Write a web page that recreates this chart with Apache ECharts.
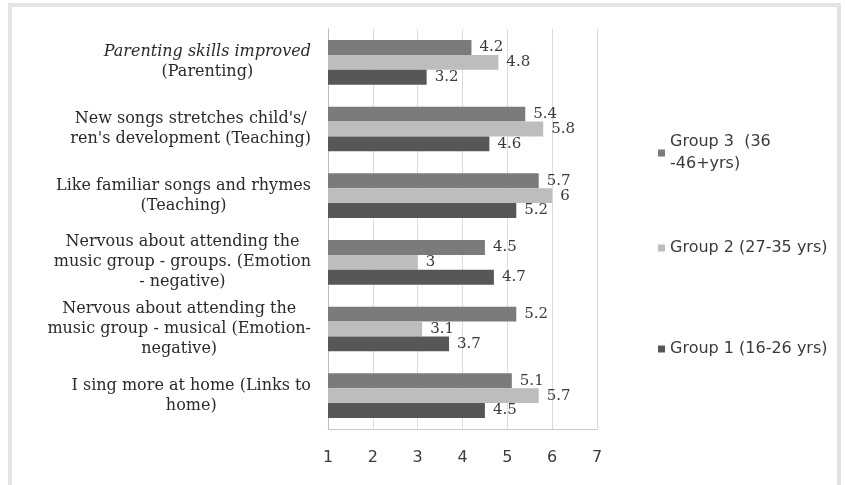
<!DOCTYPE html>
<html>
<head>
<meta charset="utf-8">
<script src="https://cdn.jsdelivr.net/npm/echarts@6/dist/echarts.min.js"></script>
<style>
html, body { margin: 0; padding: 0; background: #fff; }
#main { width: 845px; height: 485px; }
</style>
</head>
<body>
<div id="main"></div>
<script>
var dom = document.getElementById("main");
var myChart = echarts.init(dom);

// categories, top to bottom
var categories = [
    "Parenting skills improved\n(Parenting)",
    "New songs stretches child's/\nren's development (Teaching)",
    "Like familiar songs and rhymes\n(Teaching)",
    "Nervous about attending the\nmusic group - groups. (Emotion\n- negative)",
    "Nervous about attending the\nmusic group - musical (Emotion-\nnegative)",
    "I sing more at home (Links to\nhome)"
];
var seriesNames = ["Group 3  (36\n-46+yrs)", "Group 2 (27-35 yrs)", "Group 1 (16-26 yrs)"];
var group3 = [4.2, 5.4, 5.7, 4.5, 5.2, 5.1];
var group2 = [4.8, 5.8, 6, 3, 3.1, 5.7];
var group1 = [3.2, 4.6, 5.2, 4.7, 3.7, 4.5];
var colors = ["#7b7b7b", "#bdbdbd", "#575757"];

function makeSeries(name, values, color) {
    return {
        name: name,
        type: 'bar',
        data: values,
        barGap: 0,
        barCategoryGap: '33%',
        itemStyle: { color: color },
        label: {
            show: true,
            position: 'right',
            distance: 8,
            color: '#3a3a3a',
            fontFamily: 'DejaVu Serif',
            fontSize: 15
        }
    };
}

var option = {
    backgroundColor: '#fff',
    animation: false,
    grid: { left: 328, right: 248, top: 29, bottom: 56 },
    xAxis: {
        type: 'value',
        min: 1,
        max: 7,
        interval: 1,
        axisLine: { show: true, lineStyle: { color: '#c8c8c8' } },
        axisTick: { show: false },
        splitLine: { show: true, lineStyle: { color: '#dcdcdc' } },
        axisLabel: { color: '#3a3a3a', fontFamily: 'DejaVu Sans', fontSize: 16, margin: 21 }
    },
    yAxis: {
        type: 'category',
        inverse: true,
        data: categories,
        axisLine: { show: true, lineStyle: { color: '#bdbdbd' } },
        axisTick: { show: false },
        axisLabel: {
            align: 'right',
            margin: 17,
            color: '#2a2a2a',
            fontFamily: 'DejaVu Serif',
            fontSize: 16,
            lineHeight: 20,
            formatter: function (v, i) {
                return v.split('\n').map(function (line, j) {
                    return (i === 0 && j === 0 ? '{i|' : '{c|') + line + '}';
                }).join('\n');
            },
            rich: {
                c: { align: 'center', fontFamily: 'DejaVu Serif', fontSize: 16, lineHeight: 20, color: '#2a2a2a' },
                i: { align: 'center', fontFamily: 'DejaVu Serif', fontStyle: 'italic', fontSize: 16, lineHeight: 20, color: '#2a2a2a' }
            }
        }
    },
    legend: [0, 1, 2].map(function (k) {
        return {
            data: [seriesNames[k]],
            orient: 'vertical',
            left: 653,
            top: [126, 232, 333][k],
            itemWidth: 7,
            itemHeight: 7,
            itemGap: 0,
            icon: 'rect',
            textStyle: { color: '#3a3a3a', fontFamily: 'DejaVu Sans', fontSize: 16, lineHeight: 22 }
        };
    }),
    graphic: [{
        type: 'rect',
        shape: { x: 10, y: 5, width: 829, height: 490 },
        style: { fill: 'none', stroke: '#e3e3e3', lineWidth: 4 },
        silent: true
    }],
    series: [
        makeSeries(seriesNames[0], group3, colors[0]),
        makeSeries(seriesNames[1], group2, colors[1]),
        makeSeries(seriesNames[2], group1, colors[2])
    ]
};

myChart.setOption(option);
</script>
</body>
</html>
